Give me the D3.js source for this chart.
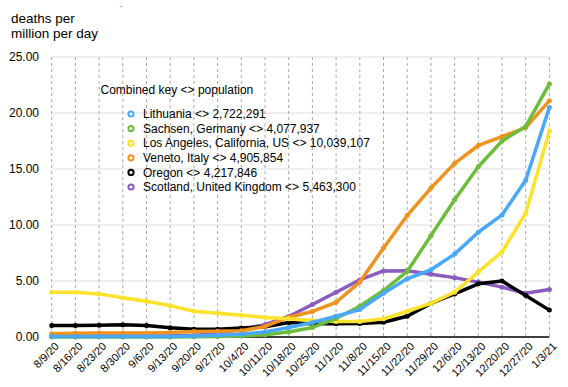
<!DOCTYPE html>
<html lang="en">
  <head>
    <meta charset="UTF-8" />
    <title>deaths per million per day</title>
    <style>
      body { margin: 0; background: #fff; }
      text { font-family: "Liberation Sans", Arial, Helvetica, sans-serif; fill: #000; }
    </style>
  </head>
  <body>
    <script src="https://d3js.org/d3.v7.min.js"></script>
    <script>
      const dates = ["8/9/20", "8/16/20", "8/23/20", "8/30/20", "9/6/20", "9/13/20", "9/20/20",
        "9/27/20", "10/4/20", "10/11/20", "10/18/20", "10/25/20", "11/1/20", "11/8/20",
        "11/15/20", "11/22/20", "11/29/20", "12/6/20", "12/13/20", "12/20/20", "12/27/20", "1/3/21"];

      const names = [
        "Lithuania <> 2,722,291",
        "Sachsen, Germany <> 4,077,937",
        "Los Angeles, California, US <> 10,039,107",
        "Veneto, Italy <> 4,905,854",
        "Oregon <> 4,217,846",
        "Scotland, United Kingdom <> 5,463,300",
      ];
      const colors = ["#4aa8f8", "#6cbd3a", "#fde22b", "#f0921f", "#000000", "#8a5cbf"];

      const lithuania = [0.05, 0.05, 0.05, 0.05, 0.05, 0.05, 0.1, 0.15, 0.25, 0.45, 0.85, 1.3,
        1.85, 2.45, 3.9, 5.2, 6.0, 7.4, 9.35, 10.9, 14.0, 20.5];
      const sachsen = [0, 0, 0, 0, 0, 0, 0.02, 0.05, 0.1, 0.2, 0.45, 0.85,
        1.65, 2.75, 4.15, 5.85, 9.05, 12.25, 15.2, 17.5, 18.8, 22.6];
      const losAngeles = [4.0, 4.0, 3.85, 3.5, 3.2, 2.8, 2.3, 2.12, 1.95, 1.75, 1.62, 1.47,
        1.38, 1.38, 1.62, 2.3, 3.0, 4.0, 5.8, 7.6, 11.05, 18.4];
      const veneto = [0.3, 0.33, 0.35, 0.35, 0.35, 0.4, 0.5, 0.52, 0.55, 0.94, 1.77, 2.28,
        3.1, 4.9, 7.95, 10.85, 13.3, 15.5, 17.1, 17.9, 18.7, 21.1];
      const oregon = [1.03, 1.03, 1.05, 1.1, 1.03, 0.82, 0.7, 0.7, 0.8, 0.92, 1.3, 1.18,
        1.18, 1.2, 1.32, 1.85, 3.0, 3.85, 4.75, 5.0, 3.7, 2.4];
      const scotland = [0.1, 0.1, 0.1, 0.1, 0.1, 0.1, 0.15, 0.3, 0.7, 1.1, 1.83, 2.9,
        4.0, 5.1, 5.9, 5.92, 5.6, 5.3, 4.9, 4.45, 3.9, 4.25];

      const yTicks = [0, 5, 10, 15, 20, 25];

      const series = [lithuania, sachsen, losAngeles, veneto, oregon, scotland].map((values, i) => ({
        name: names[i],
        color: colors[i],
        values: values,
      }));

      const width = 568, height = 387;
      const plotLeft = 51.7, plotRight = 549.4, plotTop = 57, plotBottom = 337;

      const svg = d3.select("body").append("svg")
        .attr("width", width)
        .attr("height", height);

      const x = d3.scalePoint().domain(dates).range([plotLeft, plotRight]);
      const y = d3.scaleLinear().domain([0, 25]).range([plotBottom, plotTop]);

      // horizontal grid
      svg.append("g")
        .selectAll("line")
        .data(yTicks.filter((d) => d > 0))
        .join("line")
        .attr("x1", plotLeft).attr("x2", plotRight)
        .attr("y1", (d) => y(d)).attr("y2", (d) => y(d))
        .attr("stroke", "#e0e0e0")
        .attr("stroke-width", 1);

      // vertical dashed grid
      svg.append("g")
        .selectAll("line")
        .data(dates)
        .join("line")
        .attr("x1", (d) => x(d)).attr("x2", (d) => x(d))
        .attr("y1", plotTop).attr("y2", plotBottom)
        .attr("stroke", "#a8a8a8")
        .attr("stroke-width", 1)
        .attr("stroke-dasharray", "3,3");

      // y labels
      svg.append("g")
        .selectAll("text")
        .data(yTicks)
        .join("text")
        .attr("x", 39)
        .attr("y", (d) => y(d))
        .attr("dy", "0.35em")
        .attr("text-anchor", "end")
        .style("font-size", "12px")
        .text((d) => d.toFixed(2));

      // x labels
      svg.append("g")
        .selectAll("text")
        .data(dates)
        .join("text")
        .attr("text-anchor", "end")
        .attr("transform", (d) => `translate(${x(d) + 8},${plotBottom + 10}) rotate(-45)`)
        .style("font-size", "11px")
        .text((d) => d);

      // axis line
      svg.append("line")
        .attr("x1", plotLeft).attr("x2", plotRight)
        .attr("y1", plotBottom).attr("y2", plotBottom)
        .attr("stroke", "#000")
        .attr("stroke-width", 1.5);

      // lines, drawn bottom-up so Lithuania is on top
      const line = d3.line()
        .x((d, i) => x(dates[i]))
        .y((d) => y(d));

      const lineGroup = svg.append("g");
      series.slice().reverse().forEach((s) => {
        lineGroup.append("path")
          .attr("d", line(s.values))
          .attr("fill", "none")
          .attr("stroke", s.color)
          .attr("stroke-width", 3.5)
          .attr("stroke-linejoin", "round");
        lineGroup.selectAll(null)
          .data(s.values)
          .join("circle")
          .attr("cx", (d, i) => x(dates[i]))
          .attr("cy", (d) => y(d))
          .attr("r", 2.5)
          .attr("fill", s.color);
      });

      // title
      svg.append("text")
        .attr("x", 11).attr("y", 23)
        .style("font-size", "13.5px")
        .text("deaths per");
      svg.append("text")
        .attr("x", 11).attr("y", 37.5)
        .style("font-size", "13.5px")
        .text("million per day");
      svg.append("text")
        .attr("x", 120).attr("y", 7)
        .style("font-size", "8px")
        .text(".");

      // legend
      const legend = svg.append("g");
      legend.append("text")
        .attr("x", 100.5).attr("y", 90)
        .attr("dy", "0.35em")
        .style("font-size", "12px")
        .text("Combined key <> population");

      const rows = legend.selectAll("g")
        .data(series)
        .join("g")
        .attr("transform", (d, i) => `translate(131,${114 + i * 14.6})`);
      rows.append("circle")
        .attr("r", 2.6)
        .attr("fill", "#fff")
        .attr("stroke", (d) => d.color)
        .attr("stroke-width", 2);
      rows.append("text")
        .attr("x", 12)
        .attr("dy", "0.35em")
        .style("font-size", "12px")
        .text((d) => d.name);
    </script>
  </body>
</html>
